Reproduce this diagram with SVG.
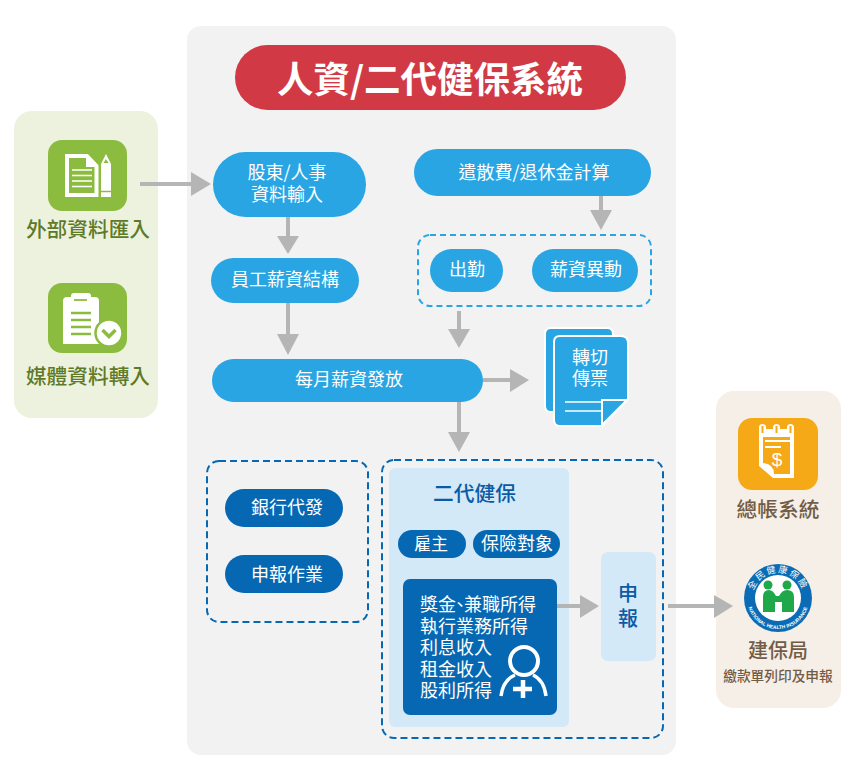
<svg xmlns="http://www.w3.org/2000/svg" xmlns:xlink="http://www.w3.org/1999/xlink" width="850" height="781" viewBox="0 0 850 781">
<style>
text{font-family:"Noto Sans CJK TC","Liberation Sans",sans-serif;text-anchor:middle}
.w{fill:#fff;font-size:18px}
.lbl{font-size:20.700px;font-weight:500;fill:#5f7a26}
.br{fill:#735c45;font-weight:500}
.b{fill:#29a5e3}
.d{fill:#0668b3}
.lb{fill:#d3e9f7}
.dash1{fill:none;stroke:#29a5e3;stroke-width:2;stroke-dasharray:6 4}
.dash2{fill:none;stroke:#0668b3;stroke-width:2;stroke-dasharray:7 4}
.c{fill:none;stroke:#b5b5b5;stroke-width:4}
.h{fill:#b5b5b5}
.db{fill:#0b5aa6;font-weight:500}
</style>
<rect width="850" height="781" fill="#fff"/>
<rect id="panel-main" x="187" y="26" width="489" height="729" rx="14" fill="#f2f2f2"/>
<g id="panel-left">
<rect x="14" y="111" width="144" height="307" rx="18" fill="#edf2df"/>
</g>
<g id="panel-right">
<rect x="716" y="391" width="125" height="317" rx="18" fill="#f5efe8"/>
</g>
<g id="title">
<rect x="235" y="45" width="391" height="65" rx="32.500" fill="#d13a45"/>
<text x="430" y="93" fill="#fff" font-size="36.500" font-weight="700">人資/二代健保系統</text>
</g>
<g id="node-external">
<rect x="48" y="140" width="79" height="71" rx="14" fill="#8cbc3f"/>
<path d="M67 156H87L96.500 166V195H67Z" fill="none" stroke="#fff" stroke-width="4"/>
<path d="M86 156V167H97Z" fill="#fff"/>
<path d="M72 170H92M72 175.500H92M72 181H92M72 186.500H92" stroke="#fff" stroke-width="1.700"/>
<path d="M101 164L106 154L111 164V197H101Z" fill="#fff"/>
<path d="M103.500 163L106 159L108.500 163Z" fill="#8cbc3f"/>
<path d="M101 191.500H111" stroke="#8cbc3f" stroke-width="1.500"/>
<text class="lbl" x="88" y="237">外部資料匯入</text>
</g>
<g id="node-media">
<rect x="48" y="283" width="79" height="70" rx="14" fill="#8cbc3f"/>
<path d="M63 301Q63 297 67 297H71V296Q71 293 74 293H88Q91 293 91 296V297H95Q99 297 99 301V344H63Z" fill="#fff"/>
<path d="M74 300H87" stroke="#8cbc3f" stroke-width="1.800"/>
<path d="M71 313H91M71 320H91M71 327H91M71 334H91" stroke="#8cbc3f" stroke-width="2.500"/>
<circle cx="109" cy="333" r="13.500" fill="#fff" stroke="#8cbc3f" stroke-width="2.500"/>
<path d="M102.500 330L109 336.500L115.500 330" fill="none" stroke="#8cbc3f" stroke-width="3.500"/>
<text class="lbl" x="88" y="384">媒體資料轉入</text>
</g>
<g id="node-input">
<rect class="b" x="213" y="152" width="153" height="65" rx="32.500"/>
<text class="w"><tspan x="287" y="179">股東/人事</tspan><tspan x="287" y="201">資料輸入</tspan></text>
</g>
<g id="node-severance">
<rect class="b" x="414" y="149" width="237" height="47" rx="23.500"/>
<text class="w" x="534" y="179">遣散費/退休金計算</text>
</g>
<g id="node-structure">
<rect class="b" x="211" y="258" width="148" height="45" rx="22.500"/>
<text class="w" x="285" y="286">員工薪資結構</text>
</g>
<g id="group-attendance">
<rect class="dash1" x="418" y="235" width="233" height="71" rx="12"/>
</g>
<g id="node-attendance">
<rect class="b" x="430" y="249" width="73" height="43" rx="21.500"/>
<text class="w" x="467" y="276">出勤</text>
</g>
<g id="node-change">
<rect class="b" x="532" y="249" width="106" height="43" rx="21.500"/>
<text class="w" x="586" y="276">薪資異動</text>
</g>
<g id="node-payroll">
<rect class="b" x="212" y="359" width="271" height="43" rx="21.500"/>
<text class="w" x="349" y="386">每月薪資發放</text>
</g>
<g id="node-voucher">
<path class="b" d="M551 328H607Q613 328 613 334V406Q613 412 607 412H551Q545 412 545 406V334Q545 328 551 328Z" stroke="#fff" stroke-width="2"/>
<path class="b" d="M560 336H621Q628 336 628 343V399L602 426H560Q554 426 554 420V342Q554 336 560 336Z" stroke="#fff" stroke-width="2"/>
<path d="M565 402H601M565 411H601" stroke="#fff" stroke-width="1.500"/>
<path d="M602 400H627L602 425Z" class="b" stroke="#fff" stroke-width="2"/>
<text class="w"><tspan x="590" y="364">轉切</tspan><tspan x="590" y="385">傳票</tspan></text>
</g>
<g id="group-bank">
<rect class="dash2" x="207" y="461" width="161" height="161" rx="12"/>
</g>
<g id="node-bank">
<rect class="d" x="225" y="489" width="118" height="38" rx="19"/>
<text class="w" x="287" y="514">銀行代發</text>
</g>
<g id="node-report-work">
<rect class="d" x="225" y="555" width="118" height="38" rx="19"/>
<text class="w" x="287" y="581">申報作業</text>
</g>
<g id="group-nhi">
<rect class="dash2" x="382" y="460" width="281" height="278" rx="12"/>
<rect class="lb" x="389" y="468" width="180" height="259" rx="6"/>
<text class="db" x="474.500" y="501" font-size="20.700">二代健保</text>
</g>
<g id="node-employer">
<rect class="d" x="398" y="530" width="68" height="28" rx="14"/>
<text class="w" x="431" y="550" style="font-size:17px">雇主</text>
</g>
<g id="node-insured">
<rect class="d" x="473" y="530" width="87" height="28" rx="14"/>
<text class="w" x="517" y="550">保險對象</text>
</g>
<g id="node-income">
<rect class="d" x="403" y="579" width="154" height="136" rx="7"/>
<text fill="#fff" font-size="18" style="text-anchor:start"><tspan x="420" y="611">獎金</tspan><tspan dx="-5">、</tspan><tspan dx="-5">兼職所得</tspan><tspan x="420" y="633">執行業務所得</tspan><tspan x="420" y="654">利息收入</tspan><tspan x="420" y="676">租金收入</tspan><tspan x="420" y="697">股利所得</tspan></text>
<circle cx="524" cy="661" r="14" fill="none" stroke="#fff" stroke-width="4"/>
<path d="M501 696Q503 680 515 675M546 696Q544 680 533 675" fill="none" stroke="#fff" stroke-width="3.500"/>
<path d="M523 680V698M513 689H532" stroke="#fff" stroke-width="4.500"/>
</g>
<g id="node-report">
<rect class="lb" x="601" y="552" width="55" height="109" rx="7"/>
<text class="db" font-size="20"><tspan x="628" y="601">申</tspan><tspan x="628" y="626">報</tspan></text>
</g>
<g id="node-ledger">
<rect x="738" y="418" width="80" height="72" rx="14" fill="#f6a917"/>
<path d="M759 429H794V478H773L759 466Z" fill="#fff"/>
<path d="M763 437H790V474H774Q774 464 763 463Z" fill="#f6a917"/>
<path d="M759 429V427.500A3.500 3.500 0 0 1 766 427.500V431H759ZM773 429V427.500A3.500 3.500 0 0 1 780 427.500V431H773ZM787 429V427.500A3.500 3.500 0 0 1 794 427.500V431H787Z" fill="#fff"/>
<path d="M762.500 426V433M776.500 426V433M790.500 426V433" stroke="#f6a917" stroke-width="2"/>
<path d="M765 441H790M765 447H781" stroke="#fff" stroke-width="1.800"/>
<text x="777" y="466" fill="#fff" font-size="19" style="font-family:'Liberation Sans',sans-serif">$</text>
<text class="br" x="778" y="517" font-size="20.700">總帳系統</text>
</g>
<g id="node-nhi">
<circle cx="778" cy="598" r="34" fill="#0b6cb5"/>
<circle cx="778" cy="598" r="23" fill="#fff"/>
<defs>
<path id="arcTop" d="M754 606.700A25.500 25.500 0 1 1 802 606.700"/>
<path id="arcBot" d="M748.900 587.400A31 31 0 1 0 807.100 587.400"/>
</defs>
<text fill="#fff" font-size="9" letter-spacing="1.800"><textPath xlink:href="#arcTop" href="#arcTop" startOffset="50%">全民健康保險</textPath></text>
<text fill="#fff" font-size="5" font-weight="700" style="font-family:'Liberation Sans',sans-serif"><textPath xlink:href="#arcBot" href="#arcBot" startOffset="50%">NATIONAL HEALTH INSURANCE</textPath></text>
<circle cx="768" cy="585" r="4.500" fill="#1fa84a"/><circle cx="787" cy="585" r="4.500" fill="#1fa84a"/>
<path d="M763 612V597Q763 590 769 590Q773 590 776 596H779Q782 590 787 590Q794 590 794 597V612H782V602H775V612Z" fill="#1fa84a"/>
<text class="br" x="778" y="658" font-size="20">建保局</text>
<text class="br" x="778" y="681" font-size="13.700">繳款單列印及申報</text>
</g>
<g id="connectors">
<path class="c" d="M140 184H192"/><path class="h" d="M191 172L211 184L191 196Z"/>
<path class="c" d="M288 217V238"/><path class="h" d="M277 236H299L288 254Z"/>
<path class="c" d="M288 303V336"/><path class="h" d="M277 334H299L288 355Z"/>
<path class="c" d="M601 196V212"/><path class="h" d="M590 210H612L601 230Z"/>
<path class="c" d="M459 311V332"/><path class="h" d="M448 329H470L459 348Z"/>
<path class="c" d="M483 380H512"/><path class="h" d="M510 369L529 380L510 392Z"/>
<path class="c" d="M459 402V434"/><path class="h" d="M448 432H470L459 452Z"/>
<path class="c" d="M557 606H581"/><path class="h" d="M580 595L599 606L580 618Z"/>
<path class="c" d="M668 606H715"/><path class="h" d="M714 595L733 606L714 618Z"/>
</g>
</svg>
